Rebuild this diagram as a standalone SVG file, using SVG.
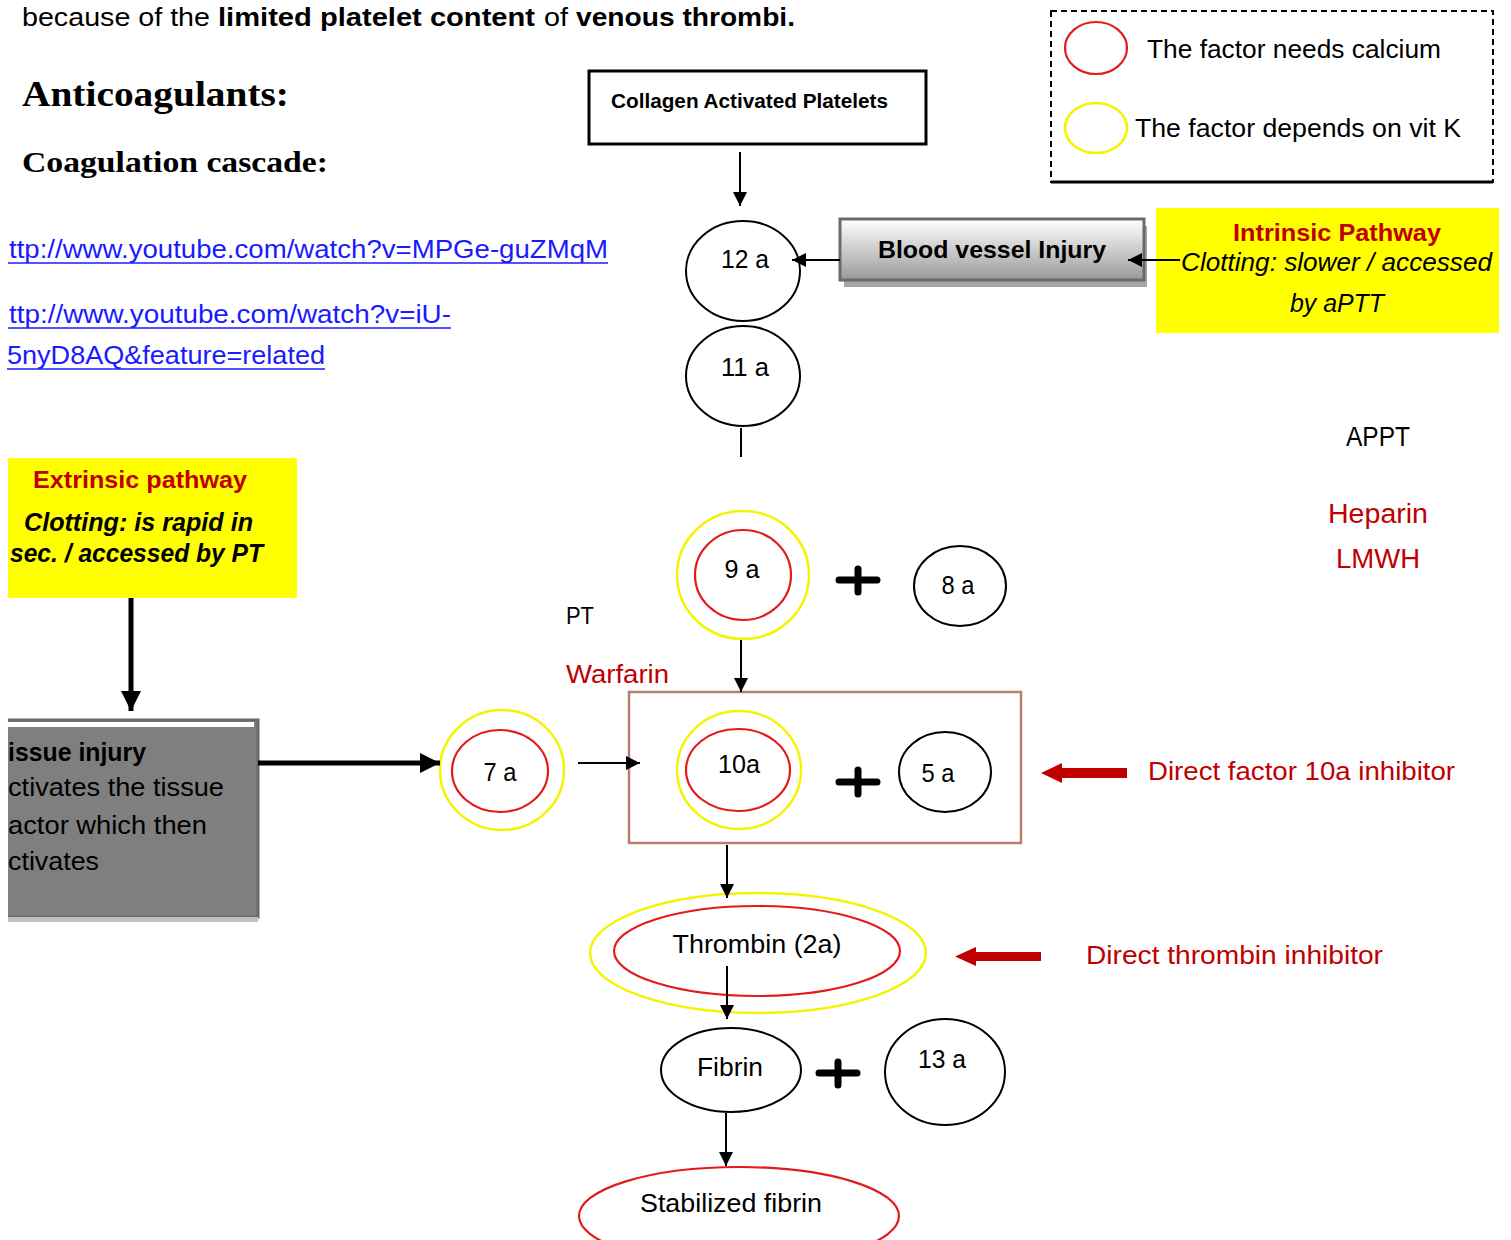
<svg xmlns="http://www.w3.org/2000/svg" width="1511" height="1240" viewBox="0 0 1511 1240">
<style>
text{font-family:"Liberation Sans",Arial,sans-serif;fill:#000}
.c{font-size:25px}
.b{font-weight:bold}
.i{font-style:italic}
.red{fill:#c00000}
.lnk{fill:#1a1aff;font-size:25px}
.serif{font-family:"Liberation Serif","DejaVu Serif",serif;font-weight:bold}
.mid{text-anchor:middle}
.ell{fill:#fff;stroke:#000;stroke-width:2}
.rc{fill:none;stroke:#e31a1a;stroke-width:2.2}
.yc{fill:none;stroke:#f4f400;stroke-width:2.5}
.ln{stroke:#000;stroke-width:2;fill:none}
.plus{stroke:#000;stroke-width:7;stroke-linecap:round;fill:none}
</style>
<defs>
<marker id="arr" markerUnits="userSpaceOnUse" markerWidth="14" markerHeight="14" refX="14" refY="7" orient="auto"><path d="M0,0 L14,7 L0,14 z" fill="#000"/></marker>
<marker id="arrB" markerUnits="userSpaceOnUse" markerWidth="20" markerHeight="20" refX="20" refY="10" orient="auto"><path d="M0,0 L20,10 L0,20 z" fill="#000"/></marker>
<linearGradient id="gv" x1="0" y1="0" x2="0" y2="1"><stop offset="0" stop-color="#ffffff"/><stop offset="1" stop-color="#9a9a9a"/></linearGradient>
</defs>
<rect width="1511" height="1240" fill="#fff"/>

<g id="header">
<text class="c" x="22" y="26" textLength="188" lengthAdjust="spacingAndGlyphs">because of the</text>
<text class="c b" x="218" y="26" textLength="317" lengthAdjust="spacingAndGlyphs">limited platelet content</text>
<text class="c" x="544" y="26" textLength="24" lengthAdjust="spacingAndGlyphs">of</text>
<text class="c b" x="576" y="26" textLength="219" lengthAdjust="spacingAndGlyphs">venous thrombi.</text>
<text class="serif" x="22" y="106" font-size="36" textLength="267" lengthAdjust="spacingAndGlyphs">Anticoagulants:</text>
<text class="serif" x="22" y="172" font-size="30" textLength="306" lengthAdjust="spacingAndGlyphs">Coagulation cascade:</text>
</g>

<g id="links">
<text class="lnk" x="9" y="258" textLength="599" lengthAdjust="spacingAndGlyphs">ttp://www.youtube.com/watch?v=MPGe-guZMqM</text>
<line x1="8" y1="263" x2="608" y2="263" stroke="#1a1aff" stroke-width="1.5"/>
<text class="lnk" x="9" y="323" textLength="442" lengthAdjust="spacingAndGlyphs">ttp://www.youtube.com/watch?v=iU-</text>
<line x1="8" y1="328" x2="451" y2="328" stroke="#1a1aff" stroke-width="1.5"/>
<text class="lnk" x="7" y="364" textLength="318" lengthAdjust="spacingAndGlyphs">5nyD8AQ&amp;feature=related</text>
<line x1="7" y1="369" x2="325" y2="369" stroke="#1a1aff" stroke-width="1.5"/>
</g>

<g id="legend">
<rect x="1051" y="11" width="442" height="171" fill="none" stroke="#000" stroke-width="2" stroke-dasharray="6,4"/>
<line x1="1051" y1="182" x2="1493" y2="182" stroke="#000" stroke-width="3"/>
<ellipse cx="1096" cy="48" rx="31" ry="26" class="rc"/>
<text class="c" x="1147" y="58" textLength="294" lengthAdjust="spacingAndGlyphs">The factor needs calcium</text>
<ellipse cx="1096" cy="128" rx="31" ry="25" class="yc"/>
<text class="c" x="1135" y="137" textLength="326" lengthAdjust="spacingAndGlyphs">The factor depends on vit K</text>
</g>

<g id="collagen">
<rect x="589" y="71" width="337" height="73" fill="#fff" stroke="#000" stroke-width="3"/>
<text class="b" x="611" y="108" font-size="20" textLength="277" lengthAdjust="spacingAndGlyphs">Collagen Activated Platelets</text>
</g>

<g id="f12">
<ellipse cx="743" cy="271" rx="57" ry="50" class="ell"/>
<text class="c mid" x="745" y="268" textLength="48" lengthAdjust="spacingAndGlyphs">12 a</text>
</g>
<g id="f11">
<ellipse cx="743" cy="376" rx="57" ry="50" class="ell"/>
<text class="c mid" x="745" y="376" textLength="48" lengthAdjust="spacingAndGlyphs">11 a</text>
</g>

<g id="bvi">
<rect x="844" y="226" width="303" height="61" fill="#a6a6a6"/>
<rect x="840" y="219" width="304" height="61" fill="url(#gv)" stroke="#6a6a6a" stroke-width="3"/>
<text class="b mid" x="992" y="258" font-size="24" textLength="228" lengthAdjust="spacingAndGlyphs">Blood vessel Injury</text>
</g>

<g id="intrinsic">
<rect x="1156" y="208" width="343" height="125" fill="#ffff00"/>
<text class="b red mid" x="1337" y="241" font-size="24" textLength="208" lengthAdjust="spacingAndGlyphs">Intrinsic Pathway</text>
<text class="i" x="1181" y="271" font-size="25" textLength="311" lengthAdjust="spacingAndGlyphs">Clotting: slower / accessed</text>
<text class="i mid" x="1337" y="312" font-size="25" textLength="94" lengthAdjust="spacingAndGlyphs">by aPTT</text>
</g>

<g id="labels-right">
<text class="mid" x="1378" y="446" font-size="27" textLength="64" lengthAdjust="spacingAndGlyphs">APPT</text>
<text class="red mid" x="1378" y="523" font-size="27" textLength="100" lengthAdjust="spacingAndGlyphs">Heparin</text>
<text class="red mid" x="1378" y="568" font-size="27" textLength="84" lengthAdjust="spacingAndGlyphs">LMWH</text>
</g>

<g id="extrinsic">
<rect x="8" y="458" width="289" height="140" fill="#ffff00"/>
<text class="b red mid" x="140" y="488" font-size="24" textLength="214" lengthAdjust="spacingAndGlyphs">Extrinsic pathway</text>
<text class="b i" x="24" y="531" font-size="25" textLength="229" lengthAdjust="spacingAndGlyphs">Clotting: is rapid in</text>
<text class="b i" x="10" y="562" font-size="25" textLength="253" lengthAdjust="spacingAndGlyphs">sec. / accessed by PT</text>
</g>

<g id="tissue">
<rect x="8" y="720" width="250" height="197" fill="#7f7f7f"/>
<rect x="8" y="722" width="246" height="5" fill="#fff"/>
<path d="M8,720 H258 V917 H8" fill="none" stroke="#6a6a6a" stroke-width="3"/>
<rect x="8" y="917" width="250" height="5" fill="#c0c0c0"/>
<text class="b" x="8" y="761" font-size="25" fill="#111" textLength="138" lengthAdjust="spacingAndGlyphs">issue injury</text>
<text x="8" y="796" font-size="25" fill="#111" textLength="216" lengthAdjust="spacingAndGlyphs">ctivates the tissue</text>
<text x="8" y="834" font-size="25" fill="#111" textLength="199" lengthAdjust="spacingAndGlyphs">actor which then</text>
<text x="8" y="870" font-size="25" fill="#111" textLength="91" lengthAdjust="spacingAndGlyphs">ctivates</text>
</g>

<g id="f7">
<ellipse cx="502" cy="770" rx="62" ry="60" class="yc"/>
<ellipse cx="500" cy="771" rx="48" ry="41" class="rc"/>
<text class="c mid" x="500" y="781" textLength="33" lengthAdjust="spacingAndGlyphs">7 a</text>
</g>

<g id="f9">
<ellipse cx="743" cy="575" rx="66" ry="64" class="yc"/>
<ellipse cx="743" cy="575" rx="48" ry="45" class="rc"/>
<text class="c mid" x="742" y="578" textLength="35" lengthAdjust="spacingAndGlyphs">9 a</text>
</g>
<path class="plus" d="M839,580 H877 M858,569 V592"/>
<g id="f8">
<ellipse cx="960" cy="586" rx="46" ry="40" class="ell"/>
<text class="c mid" x="958" y="594" textLength="33" lengthAdjust="spacingAndGlyphs">8 a</text>
</g>

<g id="labels-pt">
<text x="566" y="624" font-size="24" textLength="28" lengthAdjust="spacingAndGlyphs">PT</text>
<text class="red" x="566" y="683" font-size="26" textLength="103" lengthAdjust="spacingAndGlyphs">Warfarin</text>
</g>

<g id="complex10">
<rect x="629" y="692" width="392" height="151" fill="none" stroke="#b5806c" stroke-width="2.5"/>
</g>
<g id="f10">
<ellipse cx="739" cy="770" rx="62" ry="59" class="yc"/>
<ellipse cx="738" cy="770" rx="52" ry="41" class="rc"/>
<text class="c mid" x="739" y="773" textLength="42" lengthAdjust="spacingAndGlyphs">10a</text>
</g>
<path class="plus" d="M839,782 H877 M858,770 V794"/>
<g id="f5">
<ellipse cx="945" cy="772" rx="46" ry="40" class="ell"/>
<text class="c mid" x="938" y="782" textLength="33" lengthAdjust="spacingAndGlyphs">5 a</text>
</g>

<g id="inhib10">
<path d="M1127,768 H1062 V763 L1041,773 L1062,783 V778 H1127 z" fill="#c00000"/>
<text class="red" x="1148" y="780" font-size="26" textLength="307" lengthAdjust="spacingAndGlyphs">Direct factor 10a inhibitor</text>
</g>

<g id="thrombin">
<ellipse cx="758" cy="953" rx="168" ry="60" class="yc"/>
<ellipse cx="757" cy="951" rx="143" ry="45" class="rc"/>
<text class="c mid" x="757" y="953" textLength="169" lengthAdjust="spacingAndGlyphs">Thrombin (2a)</text>
</g>

<g id="inhibT">
<path d="M1041,952 H976 V947 L955,956.5 L976,966 V961 H1041 z" fill="#c00000"/>
<text class="red" x="1086" y="964" font-size="26" textLength="297" lengthAdjust="spacingAndGlyphs">Direct thrombin inhibitor</text>
</g>

<g id="fibrin">
<ellipse cx="731" cy="1070" rx="70" ry="42" class="ell"/>
<text class="c mid" x="730" y="1076" textLength="66" lengthAdjust="spacingAndGlyphs">Fibrin</text>
</g>
<path class="plus" d="M819,1073 H857 M838,1062 V1085"/>
<g id="f13">
<ellipse cx="945" cy="1072" rx="60" ry="53" class="ell"/>
<text class="c mid" x="942" y="1068" textLength="48" lengthAdjust="spacingAndGlyphs">13 a</text>
</g>

<g id="stabilized">
<ellipse cx="739" cy="1216" rx="160" ry="49" fill="#fff" stroke="#e31a1a" stroke-width="2.2"/>
<text class="c mid" x="731" y="1212" textLength="182" lengthAdjust="spacingAndGlyphs">Stabilized fibrin</text>
</g>

<g id="connectors">
<line class="ln" x1="740" y1="152" x2="740" y2="206" marker-end="url(#arr)"/>
<line class="ln" x1="840" y1="260" x2="792" y2="260" marker-end="url(#arr)"/>
<line class="ln" x1="1180" y1="260" x2="1128" y2="260" marker-end="url(#arr)"/>
<line class="ln" x1="741" y1="428" x2="741" y2="457"/>
<line class="ln" x1="741" y1="640" x2="741" y2="692" marker-end="url(#arr)"/>
<line x1="131" y1="598" x2="131" y2="711" stroke="#000" stroke-width="5" marker-end="url(#arrB)"/>
<line x1="258" y1="763" x2="440" y2="763" stroke="#000" stroke-width="5" marker-end="url(#arrB)"/>
<line class="ln" x1="578" y1="763" x2="640" y2="763" marker-end="url(#arr)"/>
<line class="ln" x1="727" y1="845" x2="727" y2="898" marker-end="url(#arr)"/>
<line class="ln" x1="727" y1="966" x2="727" y2="1019" marker-end="url(#arr)"/>
<line class="ln" x1="726" y1="1113" x2="726" y2="1166" marker-end="url(#arr)"/>
</g>
</svg>
